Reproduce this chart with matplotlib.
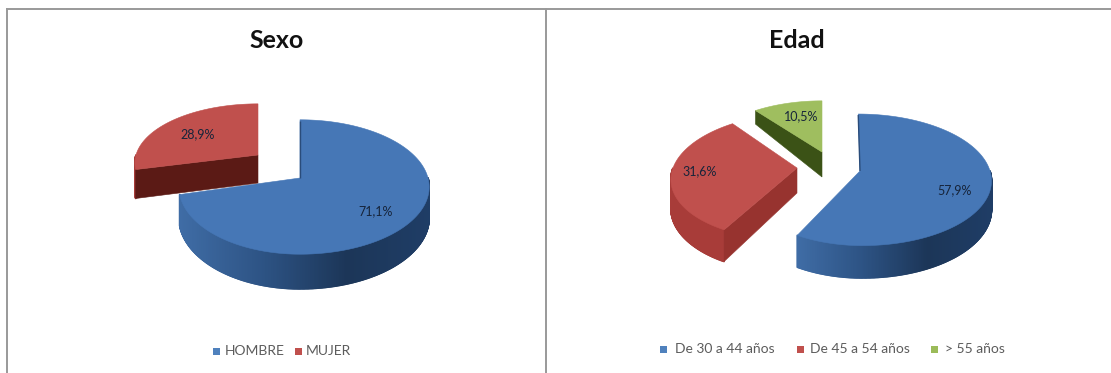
import numpy as np
import matplotlib
matplotlib.use("Agg")
import matplotlib.pyplot as plt
from matplotlib.collections import PolyCollection
from matplotlib.colors import LinearSegmentedColormap
from matplotlib.patches import Polygon, Rectangle

plt.rcParams["font.family"] = ["Lato", "DejaVu Sans"]

# Chart data
sexo_title = "Sexo"
sexo_categories = ["HOMBRE", "MUJER"]
sexo_values = [71.1, 28.9]

edad_title = "Edad"
edad_categories = ["De 30 a 44 años", "De 45 a 54 años", "> 55 años"]
edad_values = [57.9, 31.6, 10.5]

TILT = 0.134  # foreshortening of the disc towards the back

BLUE = dict(top="#4677b6", side=["#3f6ca5", "#2d5384", "#1c3658", "#1f3d66"])
RED = dict(top="#c0504d", side=["#a83c39", "#a83c39", "#a83c39", "#a83c39"])
GREEN = dict(top="#9fbe5f", side=["#3b5216"] * 4)

# Placement of each exploded slice on the canvas, in pixels
sexo_layout = [
    dict(apex=(300, 178), ar=128, al=120, b=66, shear=0, depth=30, apex_depth=30,
         edge="#2a4c7a", face=None, **BLUE),
    dict(apex=(258, 155), ar=122, al=122, b=58, shear=0, depth=28, apex_depth=28,
         edge=None, face="#5b1a15", **RED),
]
edad_layout = [
    dict(apex=(860, 171), ar=130, al=120, b=64.6, shear=-2, depth=28, apex_depth=28,
         edge="#2a4c7a", face=None, **BLUE),
    dict(apex=(797, 168), ar=124, al=124, b=62, shear=6, depth=28, apex_depth=25,
         edge=None, face="#97332f", **RED),
    dict(apex=(822, 152), ar=120, al=120, b=58, shear=0, depth=15, apex_depth=25,
         edge=None, face="#3b5216", **GREEN),
]

sexo_label_xy = [(376, 211), (198, 134)]
edad_label_xy = [(955, 190), (700, 171), (801, 116)]
LABEL_COLOR = "#16243a"

LEGEND_COLOR = "#5c5c5c"
LEGEND_SWATCH = ["#4f81bd", "#c0504d", "#9bbb59"]
sexo_legend_x = [(216, 225), (298, 306)]
edad_legend_x = [(663, 675), (800, 810), (934, 945)]

TITLE_SIZE = 18


def rim(theta, s):
    """Project a rim angle (degrees clockwise from 12 o'clock) onto the canvas."""
    t = np.radians(theta)
    u, v = np.sin(t), np.cos(t)
    w = 1 + TILT * v
    a = np.where(u > 0, s["ar"], s["al"])
    x = s["apex"][0] + (a * u + s["shear"] * v) / w
    y = s["apex"][1] - s["b"] * v / w
    return x, y, s["depth"] / w


def draw_slice(ax, start, sweep, s, next_z):
    theta = np.linspace(start, start + sweep, max(int(sweep * 2), 8))
    x, y, d = rim(theta, s)
    x_min, x_max = x.min(), x.max()

    # Curved outer wall, shaded across its width; only the near half can be seen
    cmap = LinearSegmentedColormap.from_list("wall", s["side"])
    span = max(x_max - x_min, 1)
    quads, colors = [], []
    for i in range(len(x) - 1):
        if np.cos(np.radians(0.5 * (theta[i] + theta[i + 1]))) > 0:
            continue
        quads.append([(x[i], y[i]), (x[i + 1], y[i + 1]),
                      (x[i + 1], y[i + 1] + d[i + 1]), (x[i], y[i] + d[i])])
        colors.append(cmap((0.5 * (x[i] + x[i + 1]) - x_min) / span))
    if quads:
        ax.add_collection(PolyCollection(quads, facecolors=colors, edgecolors=colors,
                                         linewidths=1.2, zorder=next_z()))

    apex = s["apex"]
    # Radial cut wall facing the viewer
    if s["face"]:
        fx, fy, fd = rim(np.array([start]), s)
        ax.add_patch(Polygon(
            [apex, (fx[0], fy[0]), (fx[0], fy[0] + fd[0]),
             (apex[0], apex[1] + s["apex_depth"])],
            closed=True, fc=s["face"], ec=s["face"], lw=0.4, zorder=next_z()))

    # Top surface
    ax.add_patch(Polygon([apex] + list(zip(x, y)), closed=True,
                         fc=s["top"], ec=s["top"], lw=0.4, zorder=next_z()))

    # Thin shaded edge along the 12 o'clock cut
    if s["edge"]:
        ex, ey, _ = rim(np.array([start]), s)
        ax.plot([ex[0], apex[0]], [ey[0] + 1, apex[1]], color=s["edge"], lw=1.0,
                solid_capstyle="butt", zorder=next_z())


def draw_pie(ax, title, title_xy, values, layout, label_xy, next_z):
    ax.text(*title_xy, title, ha="center", va="center", fontsize=TITLE_SIZE,
            fontweight="bold", color="#111111", zorder=50)
    start = 0.0
    for value, s in zip(values, layout):
        sweep = value / sum(values) * 360
        draw_slice(ax, start, sweep, s, next_z)
        start += sweep
    for value, (lx, ly) in zip(values, label_xy):
        ax.text(lx, ly, f"{value:.1f}%".replace(".", ","), ha="center", va="center",
                fontsize=9, color=LABEL_COLOR, zorder=50)


def draw_legend(ax, categories, positions, y):
    for name, (sx, tx), color in zip(categories, positions, LEGEND_SWATCH):
        ax.add_patch(Rectangle((sx - 3.5, y - 3.5), 7, 7, fc=color, ec="none", zorder=50))
        ax.text(tx, y, name, ha="left", va="center", fontsize=10, color=LEGEND_COLOR, zorder=50)


fig = plt.figure(figsize=(11.11, 3.73), dpi=100, facecolor="white")
ax = fig.add_axes([0, 0, 1, 1])
ax.set_xlim(0, 1111)
ax.set_ylim(373, 0)
ax.axis("off")

# Monotonic stacking order for the hand-layered slices
_z = iter(range(2, 4000))
next_z = lambda: next(_z) / 100

# Panel frames
FRAME = "#999999"
ax.plot([7, 1111], [9, 9], color=FRAME, lw=1.4)
ax.plot([7, 7], [9, 373], color=FRAME, lw=1.4)
ax.plot([546, 546], [9, 373], color=FRAME, lw=1.4)

draw_pie(ax, sexo_title, (277, 41), sexo_values, sexo_layout, sexo_label_xy, next_z)
draw_pie(ax, edad_title, (797, 41), edad_values, edad_layout, edad_label_xy, next_z)

draw_legend(ax, sexo_categories, sexo_legend_x, 351)
draw_legend(ax, edad_categories, edad_legend_x, 349)

fig.savefig("out.png", dpi=100, facecolor="white")
